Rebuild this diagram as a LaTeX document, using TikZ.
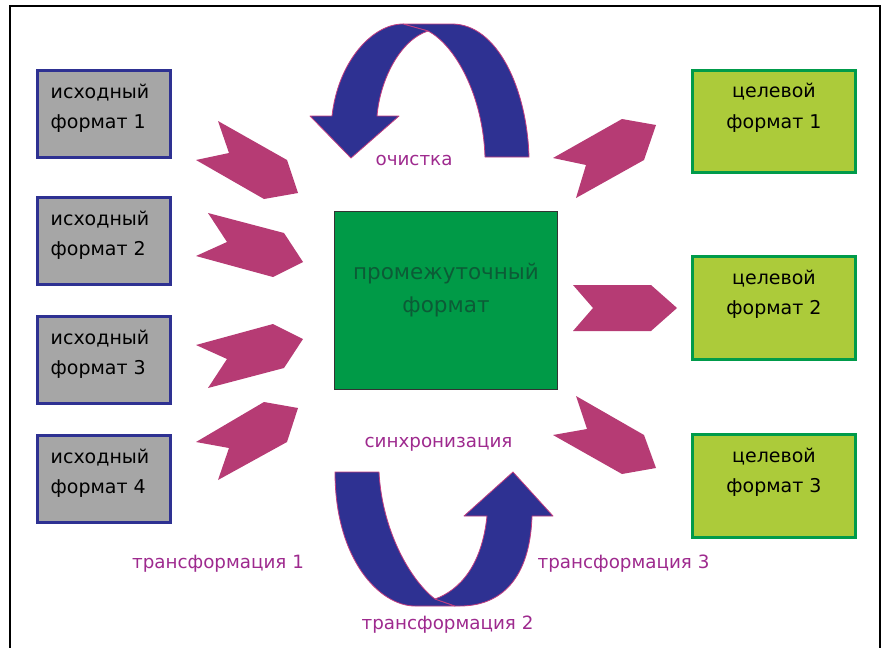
\documentclass[tikz,border=0pt]{standalone}
\usepackage{fontspec}
\setmainfont{DejaVu Sans}
\definecolor{srcfill}{HTML}{A6A6A6}
\definecolor{srcline}{HTML}{2E3192}
\definecolor{tgtfill}{HTML}{ACCB3A}
\definecolor{tgtline}{HTML}{009B4A}
\definecolor{midfill}{HTML}{009A47}
\definecolor{midtext}{HTML}{0C5B36}
\definecolor{chevron}{HTML}{B63B74}
\definecolor{loopblue}{HTML}{2E3192}
\definecolor{loopedge}{HTML}{C23E80}
\definecolor{labeltext}{HTML}{9E2A8E}
\begin{document}
\begin{tikzpicture}[x=1pt,y=-1pt,
  srcbox/.style={draw=srcline, line width=3pt, fill=srcfill,
    minimum width=133pt, minimum height=87pt, inner sep=0pt},
  tgtbox/.style={draw=tgtline, line width=3pt, fill=tgtfill,
    minimum width=163pt, minimum height=102.5pt, inner sep=0pt},
  midbox/.style={draw=black!80, line width=1pt, fill=midfill,
    minimum width=223pt, minimum height=178pt, inner sep=0pt},
  boxtext/.style={inner sep=0pt, font=\fontsize{19}{23}\selectfont, text=black},
  midlabel/.style={inner sep=0pt, font=\fontsize{21.5}{25}\selectfont, text=midtext},
  steplabel/.style={inner sep=0pt, font=\fontsize{18.3}{22}\selectfont, text=labeltext, anchor=base},
  chev/.style={fill=chevron},
  loopband/.style={fill=loopblue, draw=loopedge, line width=0.8pt, line join=round}
]
\useasboundingbox (0,0) rectangle (884,648);

% outer frame, open at the bottom
\draw[line width=2pt] (10,648) -- (10,6) -- (880,6) -- (880,648);

% source formats
\foreach \i/\y in {1/114,2/241,3/360,4/479}{
  \node[srcbox] (src\i) at (104,\y) {};
  \node[boxtext, anchor=base west] (src\i a) at ([xshift=14.5pt,yshift=-29.5pt]src\i.north west) {исходный};
  \node[boxtext, anchor=base west] (src\i b) at ([xshift=14.5pt,yshift=-59.5pt]src\i.north west) {формат \i};
}

% target formats
\foreach \i/\y in {1/121.5,2/308,3/486}{
  \node[tgtbox] (tgt\i) at (774,\y) {};
  \node[boxtext, anchor=base] (tgt\i a) at ([yshift=-29pt]tgt\i.north) {целевой};
  \node[boxtext, anchor=base] (tgt\i b) at ([yshift=-59.5pt]tgt\i.north) {формат \i};
}

% intermediate format
\node[midbox] (mid) at (446,300.5) {};
\node[midlabel, anchor=base] (mida) at (446,279) {промежуточный};
\node[midlabel, anchor=base] (midb) at (446,312) {формат};

% chevrons towards the intermediate format
\fill[chev] (196,160) -- (229,153) -- (218,121) -- (287,160) -- (298,193) -- (264,199) -- cycle;
\fill[chev] (196,256) -- (227,242) -- (208,213) -- (284,233) -- (303,262) -- (273,277) -- cycle;
\fill[chev] (196,345) -- (227,359) -- (208,388) -- (284,368) -- (303,339) -- (273,324) -- cycle;
\fill[chev] (196,442) -- (229,448) -- (218,480) -- (287,442) -- (298,408) -- (264,402) -- cycle;

% chevrons towards the target formats
\fill[chev] (553,158) -- (586,165) -- (576,198) -- (644,160) -- (656,125) -- (622,119) -- cycle;
\fill[chev] (573,285) -- (593,308) -- (573,331) -- (651,331) -- (677,308) -- (651,285) -- cycle;
\fill[chev] (553,435) -- (587,429) -- (576,396) -- (644,435) -- (656,468) -- (622,474) -- cycle;

% upper loop (cleaning)
\filldraw[loopband] (403,24) -- (452,24) .. controls (497,24) and (527,88) .. (529,157)
  -- (485,157) .. controls (483,95) and (455,45) .. (428,31) -- cycle;
\filldraw[loopband] (310,116) -- (351,158) -- (399,116) -- (377,116)
  .. controls (380,80) and (400,40) .. (428,31) -- (403,24)
  .. controls (372,24) and (338,62) .. (332,116) -- cycle;

% lower loop (synchronisation)
\filldraw[loopband] (335,472) -- (379,472) .. controls (382,530) and (410,580) .. (435,599)
  -- (455,606) -- (415,606) .. controls (380,606) and (335,560) .. (335,472) -- cycle;
\filldraw[loopband] (435,599) .. controls (460,590) and (482,565) .. (487,516)
  -- (464,516) -- (513,472) -- (553,516) -- (532,516)
  .. controls (530,580) and (500,606) .. (460,606) -- (455,606) -- cycle;

% labels
\node[steplabel] (clean) at (414,165) {очистка};
\node[steplabel] (sync) at (438.5,447) {синхронизация};
\node[steplabel] (tr1) at (218,568) {трансформация 1};
\node[steplabel] (tr2) at (447.5,629) {трансформация 2};
\node[steplabel] (tr3) at (623.5,568) {трансформация 3};
\end{tikzpicture}
\end{document}
